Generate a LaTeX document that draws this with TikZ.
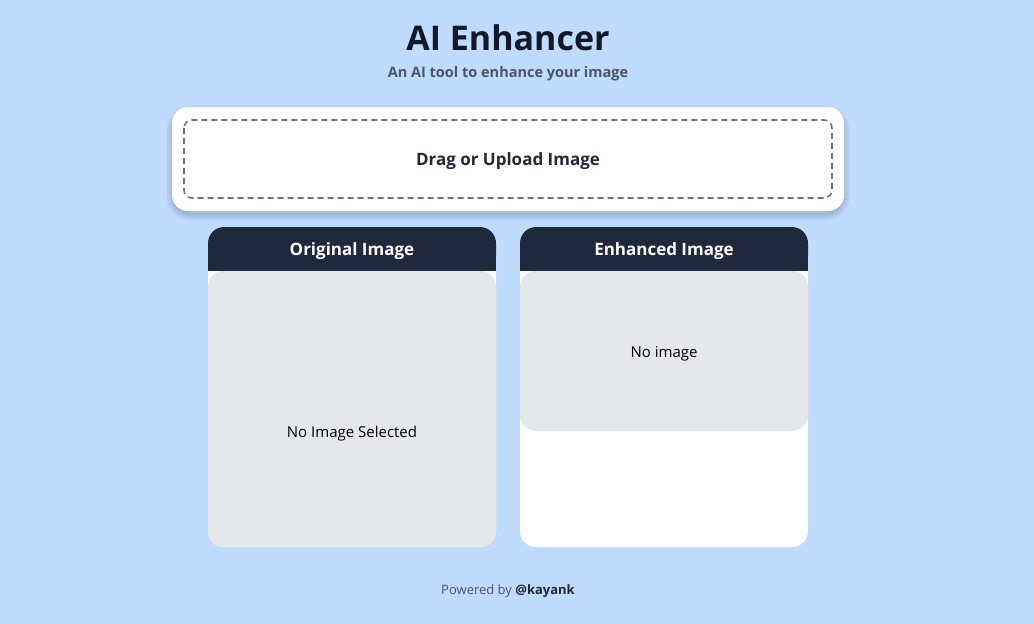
\documentclass[tikz,border=0pt]{standalone}
\usepackage{fontspec}
\setmainfont{Open Sans}
\definecolor{bg}{HTML}{BFDBFE}
\definecolor{titlec}{HTML}{111827}
\definecolor{subc}{HTML}{4B5563}
\definecolor{dashc}{HTML}{6B7280}
\definecolor{headc}{HTML}{1E293B}
\definecolor{bodyc}{HTML}{E5E7EB}
\definecolor{textc}{HTML}{1F2937}
\tikzset{
  card/.style={fill=white, rounded corners=16pt},
  shade layer/.style={fill=black, fill opacity=0.018},
  header/.style={fill=headc},
  body/.style={fill=bodyc, rounded corners=16pt},
  lbl/.style={inner sep=0pt, anchor=center},
}
\newcommand{\softshadow}[4]{%
  \foreach \k in {1,...,8}{
    \fill[shade layer, rounded corners={16pt+\k pt}] ({#1-\k+2},{#2-\k+6}) rectangle ({#3+\k-2},{#4+\k+2});
  }}
\begin{document}
\begin{tikzpicture}[x=1pt,y=-1pt]
\useasboundingbox (0,0) rectangle (1034,624);
\fill[bg] (0,0) rectangle (1034,624);
% title
\node[lbl, text=titlec, font=\bfseries\fontsize{34}{40}\selectfont] (title) at (508,38) {AI Enhancer};
\node[lbl, text=subc, font=\fontsize{14.5}{17}\selectfont\bfseries] (sub) at (508,73.5) {An AI tool to enhance your image};
% upload card
\softshadow{172}{107}{844}{211}
\path[card] (172,107) rectangle (844,211);
\draw[dashc, line width=1.6pt, dash pattern=on 6pt off 4pt, rounded corners=8pt] (184,120) rectangle (832,198);
\node[lbl, text=textc, font=\fontsize{17}{20}\selectfont\bfseries] (upload) at (508,161.5) {Drag or Upload Image};
% left card
\path[card] (208,227) rectangle (496,547);
\fill[header, rounded corners=16pt] (208,271) -- (208,227) -- (496,227) -- (496,271) -- cycle;
\fill[header] (208,250) rectangle (496,271);
\path[body] (208,271) rectangle (496,547);
\node[lbl, text=white, font=\fontsize{17}{20}\selectfont\bfseries] (orig) at (352,251.5) {Original Image};
\node[lbl, text=black, font=\fontsize{15}{18}\selectfont] (noimg) at (352,433.5) {No Image Selected};
% right card
\path[card] (520,227) rectangle (808,547);
\fill[header, rounded corners=16pt] (520,271) -- (520,227) -- (808,227) -- (808,271) -- cycle;
\fill[header] (520,250) rectangle (808,271);
\path[body] (520,271) rectangle (808,431);
\node[lbl, text=white, font=\fontsize{17}{20}\selectfont\bfseries] (enh) at (664,251.5) {Enhanced Image};
\node[lbl, text=black, font=\fontsize{15}{18}\selectfont] (noimg2) at (664,353.5) {No image};
% footer
\node[lbl, text=subc, font=\fontsize{13}{16}\selectfont] (foot) at (508,591.5) {Powered by \textbf{\textcolor{textc}{@kayank}}};
\end{tikzpicture}
\end{document}
